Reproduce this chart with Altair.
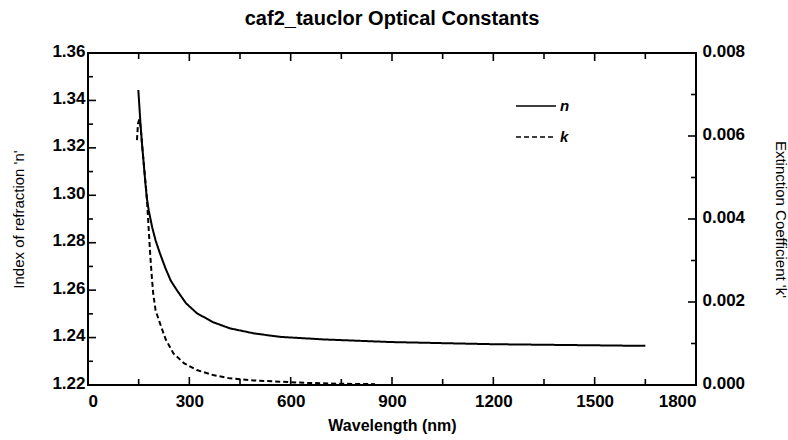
import altair as alt
import pandas as pd

# ---- data ----
wl_n = [149, 155, 160, 164, 170, 174, 180, 190, 200, 213, 230, 245, 263, 290, 322,
        370, 420, 490, 568, 700, 900, 1200, 1650]
n_vals = [1.3444, 1.331, 1.3215, 1.315, 1.305, 1.299, 1.2935, 1.2865, 1.281, 1.2755,
          1.269, 1.264, 1.260, 1.2545, 1.2503, 1.2465, 1.2439, 1.2418, 1.2403, 1.2392,
          1.2381, 1.2372, 1.2365]

wl_k = [145, 148, 152, 156, 160, 164, 170, 174, 179, 184, 188, 193, 200, 213, 230,
        253, 285, 322, 370, 420, 490, 568, 650, 750, 850]
k_vals = [0.0059, 0.0063, 0.0064, 0.0062, 0.0058, 0.00543, 0.0049, 0.00454, 0.00385,
          0.00317, 0.0027, 0.00221, 0.0018, 0.00149, 0.00110, 0.00076, 0.00052, 0.00036,
          0.00024, 0.00016, 0.00011, 0.00008, 0.00005, 0.00003, 0.00002]

x_major = [0, 300, 600, 900, 1200, 1500, 1800]
x_minor = [150, 450, 750, 1050, 1350, 1650]
n_major = [1.22, 1.24, 1.26, 1.28, 1.30, 1.32, 1.34, 1.36]
n_minor = [1.23, 1.25, 1.27, 1.29, 1.31, 1.33, 1.35]
k_major = [0.000, 0.002, 0.004, 0.006, 0.008]
k_minor = [0.001, 0.003, 0.005, 0.007]

series_names = ["n", "k"]

FONT = "Liberation Sans"
W, H = 608, 332

df_n = pd.DataFrame({"wl": wl_n, "val": n_vals, "series": "n"})
df_k = pd.DataFrame({"wl": wl_k, "val": k_vals, "series": "k"})

xscale = alt.Scale(domain=[0, 1800], nice=False, zero=False)
nscale = alt.Scale(domain=[1.22, 1.36], nice=False, zero=False)
kscale = alt.Scale(domain=[0, 0.008], nice=False, zero=False)

dash = alt.StrokeDash(
    "series:N",
    scale=alt.Scale(domain=series_names, range=[[1, 0], [5, 3]]),
    legend=alt.Legend(
        title=None, orient="none", legendX=427, legendY=32,
        symbolType="stroke", symbolSize=1600, symbolStrokeWidth=1.6,
        symbolStrokeColor="black",
        labelFont=FONT, labelFontSize=15, labelFontWeight="bold",
        labelFontStyle="italic", labelColor="black", labelOffset=3,
    ),
)

x_axis = alt.Axis(
    values=x_major, format="d", title="Wavelength (nm)", domain=False, ticks=False,
    grid=False, labelFont=FONT, labelFontSize=17, labelFontWeight="bold",
    labelColor="black", labelPadding=8, labelAngle=0,
    titleFont=FONT, titleFontSize=16, titleFontWeight="bold", titleColor="black",
    titleY=40, titleBaseline="middle",
)

n_axis = alt.Axis(
    values=n_major, format=".2f", title="Index of refraction 'n'", domain=False,
    ticks=False, grid=False, labelFont=FONT, labelFontSize=17,
    labelFontWeight="bold", labelColor="black", labelPadding=3, labelOffset=-2,
    titleFont=FONT, titleFontSize=15, titleFontWeight="normal", titleColor="black",
    titleX=-70, titleY=H / 2, titleBaseline="middle", titleAngle=270,
)

k_axis = alt.Axis(
    values=k_major, format=".3f", title="Extinction Coefficient 'k'", orient="right",
    domain=False, ticks=False, grid=False, labelFont=FONT,
    labelFontSize=17, labelFontWeight="bold", labelColor="black", labelPadding=6,
    labelOffset=-2,
    titleFont=FONT, titleFontSize=15, titleFontWeight="normal", titleColor="black",
    titleX=84, titleY=H / 2, titleBaseline="middle", titleAngle=90,
)

n_line = alt.Chart(df_n).mark_line(color="black", strokeWidth=2).encode(
    x=alt.X("wl:Q", scale=xscale, axis=x_axis),
    y=alt.Y("val:Q", scale=nscale, axis=n_axis),
    strokeDash=dash,
)

k_line = alt.Chart(df_k).mark_line(color="black", strokeWidth=2).encode(
    x=alt.X("wl:Q", scale=xscale, axis=x_axis),
    y=alt.Y("val:Q", scale=kscale, axis=k_axis),
    strokeDash=dash,
)


# inward tick marks, drawn through the chart scales
def xticks(vals, length):
    d = pd.DataFrame({"wl": vals})
    top = alt.Chart(d).mark_rule(color="black", strokeWidth=1.6).encode(
        x=alt.X("wl:Q", scale=xscale, axis=x_axis),
        y=alt.value(0), y2=alt.value(length))
    bot = alt.Chart(d).mark_rule(color="black", strokeWidth=1.6).encode(
        x=alt.X("wl:Q", scale=xscale, axis=x_axis),
        y=alt.value(H), y2=alt.value(H - length))
    return [top, bot]


def yticks(vals, scale, length, right=False):
    d = pd.DataFrame({"t": vals})
    if right:
        xa, xb = alt.value(W), alt.value(W - length)
    else:
        xa, xb = alt.value(0), alt.value(length)
    return alt.Chart(d).mark_rule(color="black", strokeWidth=1.6).encode(
        y=alt.Y("t:Q", scale=scale, axis=None), x=xa, x2=xb)


chart = alt.layer(
    n_line,
    k_line,
    yticks(n_major, nscale, 8),
    yticks(n_minor, nscale, 5),
    yticks(k_major, kscale, 8, right=True),
    yticks(k_minor, kscale, 5, right=True),
    *xticks(x_major, 8),
    *xticks(x_minor, 6),
).resolve_scale(y="independent").properties(
    width=W, height=H,
    title=alt.Title("caf2_tauclor Optical Constants", font=FONT, fontSize=20,
                    fontWeight="bold", color="black", anchor="middle", offset=13),
    autosize=alt.AutoSizeParams(type="none"),
    padding={"left": 88, "top": 53, "right": 92, "bottom": 55},
    background="white",
).configure_view(stroke="black", strokeWidth=2)

chart.save("out.html", embed_options={"renderer": "svg", "actions": False})
